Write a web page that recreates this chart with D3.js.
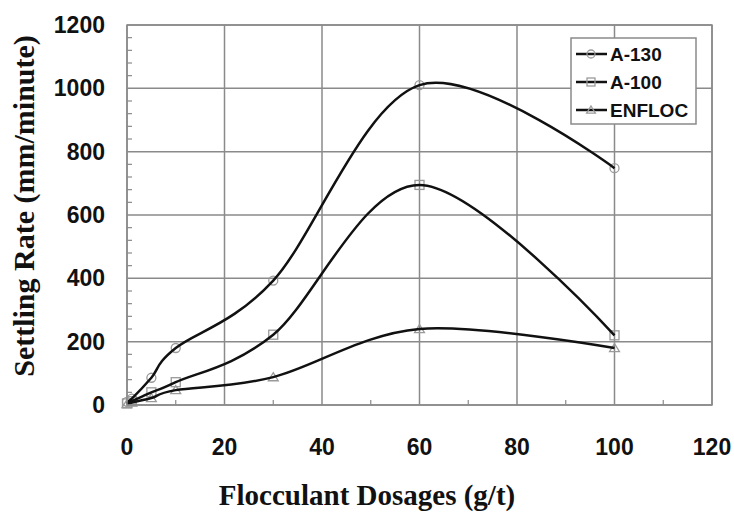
<!DOCTYPE html>
<html>
<head>
<meta charset="utf-8">
<script src="https://cdn.jsdelivr.net/npm/d3@7"></script>
<style>
  html, body { margin: 0; padding: 0; background: #fff; }
  svg { display: block; }
</style>
</head>
<body>
<svg id="chart" width="734" height="512"></svg>
<script>
const dosages = [0, 1, 5, 10, 30, 60, 100];
const a130 = [10, 20, 86, 180, 393, 1010, 748];
const a100 = [5, 12, 40, 72, 222, 695, 220];
const enfloc = [3, 8, 22, 47, 88, 240, 180];
const seriesNames = ["A-130", "A-100", "ENFLOC"];
const seriesMarkers = ["circle", "square", "triangle"];
const xTicks = [0, 20, 40, 60, 80, 100, 120];
const yTicks = [0, 200, 400, 600, 800, 1000, 1200];
const xLabel = "Flocculant Dosages (g/t)";
const yLabel = "Settling Rate (mm/minute)";

const series = [a130, a100, enfloc].map((vals, i) => ({
  name: seriesNames[i], marker: seriesMarkers[i],
  points: dosages.map((d, j) => ({ x: d, y: vals[j] }))
}));

const svg = d3.select("#chart");
const L = 127, R = 712, T = 25, B = 405;
const x = d3.scaleLinear().domain([0, 120]).range([L, R]);
const y = d3.scaleLinear().domain([0, 1200]).range([B, T]);
const gridColor = "#8a8a8a";

// gridlines
svg.append("g").selectAll("line").data(xTicks).join("line")
  .attr("x1", d => x(d)).attr("x2", d => x(d)).attr("y1", T).attr("y2", B)
  .attr("stroke", gridColor).attr("stroke-width", 1.5);
svg.append("g").selectAll("line").data(yTicks).join("line")
  .attr("x1", L).attr("x2", R).attr("y1", d => y(d)).attr("y2", d => y(d))
  .attr("stroke", gridColor).attr("stroke-width", 1.5);

// minor ticks (inside)
const yMinor = d3.range(0, 1201, 40).filter(v => v % 200 !== 0);
svg.append("g").selectAll("line").data(yMinor).join("line")
  .attr("x1", L).attr("x2", L + 5).attr("y1", d => y(d)).attr("y2", d => y(d))
  .attr("stroke", gridColor).attr("stroke-width", 1.2);
const xMinor = d3.range(10, 120, 20);
svg.append("g").selectAll("line").data(xMinor).join("line")
  .attr("x1", d => x(d)).attr("x2", d => x(d)).attr("y1", B).attr("y2", B - 5)
  .attr("stroke", gridColor).attr("stroke-width", 1.2);

// tick labels
svg.append("g").selectAll("text").data(yTicks).join("text")
  .attr("x", 105).attr("y", d => y(d)).attr("dy", "0.35em")
  .attr("text-anchor", "end")
  .attr("font-family", "Liberation Sans, Arial, sans-serif")
  .attr("font-weight", "bold").attr("font-size", 23).attr("fill", "#111")
  .text(d => d);
svg.append("g").selectAll("text").data(xTicks).join("text")
  .attr("x", d => x(d)).attr("y", 455)
  .attr("text-anchor", "middle")
  .attr("font-family", "Liberation Sans, Arial, sans-serif")
  .attr("font-weight", "bold").attr("font-size", 23).attr("fill", "#111")
  .text(d => d);

// axis titles
svg.append("text")
  .attr("x", 367).attr("y", 505).attr("text-anchor", "middle")
  .attr("font-family", "Liberation Serif, Times New Roman, serif")
  .attr("font-weight", "bold").attr("font-size", 29).attr("fill", "#111")
  .text(xLabel);
svg.append("text")
  .attr("transform", "translate(34,206) rotate(-90)")
  .attr("text-anchor", "middle")
  .attr("font-family", "Liberation Serif, Times New Roman, serif")
  .attr("font-weight", "bold").attr("font-size", 30).attr("fill", "#111")
  .text(yLabel);

// marker drawing
function drawMarker(g, type, cx, cy, s) {
  const stroke = "#9a9a9a";
  if (type === "circle") {
    g.append("circle").attr("cx", cx).attr("cy", cy).attr("r", s)
      .attr("fill", "none").attr("stroke", stroke).attr("stroke-width", 1.3);
  } else if (type === "square") {
    g.append("rect").attr("x", cx - s).attr("y", cy - s)
      .attr("width", 2 * s).attr("height", 2 * s)
      .attr("fill", "none").attr("stroke", stroke).attr("stroke-width", 1.3);
  } else {
    g.append("path")
      .attr("d", `M${cx},${cy - s}L${cx + s * 1.1},${cy + s * 0.8}L${cx - s * 1.1},${cy + s * 0.8}Z`)
      .attr("fill", "none").attr("stroke", stroke).attr("stroke-width", 1.3);
  }
}

// markers
const mg = svg.append("g");
series.forEach(s => {
  s.points.forEach(p => drawMarker(mg, s.marker, x(p.x), y(p.y), s.marker === "circle" ? 4.5 : 4.5));
});

// lines
const line = d3.line().x(d => x(d.x)).y(d => y(d.y)).curve(d3.curveCatmullRom.alpha(0));
svg.append("g").selectAll("path").data(series).join("path")
  .attr("d", d => line(d.points))
  .attr("fill", "none").attr("stroke", "#111").attr("stroke-width", 2.5);

// plot border
svg.append("rect").attr("x", L).attr("y", T).attr("width", R - L).attr("height", B - T)
  .attr("fill", "none").attr("stroke", gridColor).attr("stroke-width", 1.5);

// legend
const lg = svg.append("g");
lg.append("rect").attr("x", 571).attr("y", 38).attr("width", 125).attr("height", 86)
  .attr("fill", "#fff").attr("stroke", gridColor).attr("stroke-width", 1.5);
series.forEach((s, i) => {
  const ly = 54 + i * 28;
  lg.append("line").attr("x1", 576).attr("x2", 607).attr("y1", ly).attr("y2", ly)
    .attr("stroke", "#111").attr("stroke-width", 2.5);
  drawMarker(lg, s.marker, 591, ly, 4);
  lg.append("text").attr("x", 610).attr("y", ly).attr("dy", "0.36em")
    .attr("font-family", "Liberation Sans, Arial, sans-serif")
    .attr("font-weight", "bold").attr("font-size", 19).attr("fill", "#111")
    .text(s.name);
});
</script>
</body>
</html>
